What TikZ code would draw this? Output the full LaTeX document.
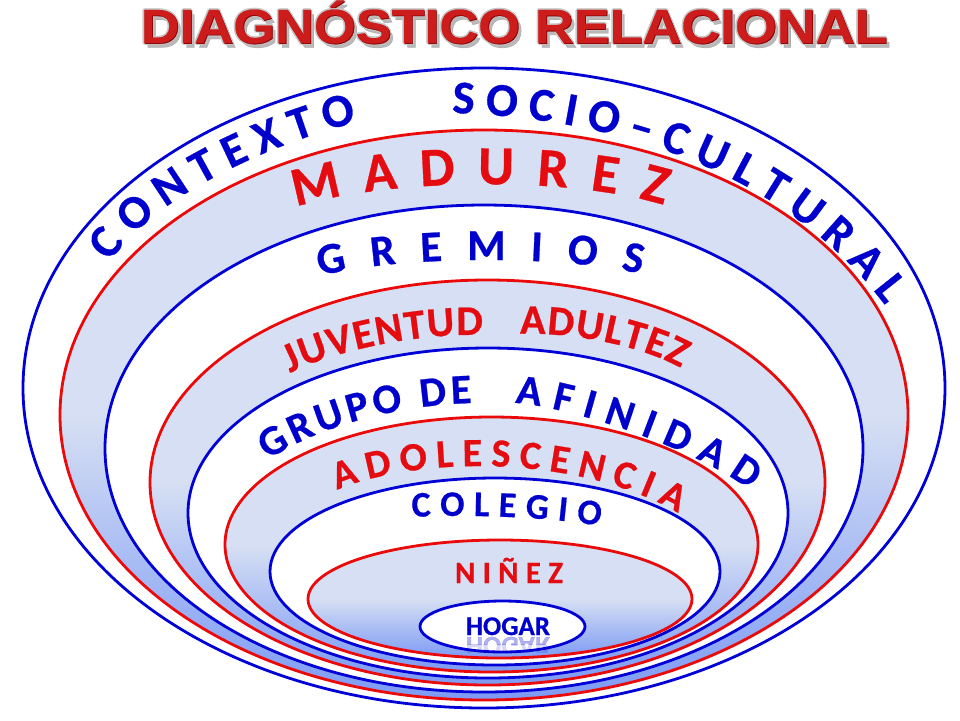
\documentclass[tikz,border=0pt]{standalone}
\usepackage{fontspec}
\setmainfont{Liberation Sans}
\newfontface\titlefont{Liberation Sans Bold}[FakeBold=0.5]
\newfontfamily\ringfont{Carlito}[BoldFeatures={FakeBold=0.6}]
\usetikzlibrary{decorations.text}
\definecolor{ringblue}{RGB}{0,0,215}
\definecolor{ringred}{RGB}{235,10,10}
\definecolor{txtblue}{RGB}{0,0,205}
\definecolor{txtred}{RGB}{228,12,16}
\definecolor{bandtop}{RGB}{214,223,243}
\definecolor{bandbot}{RGB}{125,155,245}
\definecolor{titlered}{RGB}{205,28,28}
\begin{document}
\begin{tikzpicture}
[   x=.5pt, y=-.5pt,
    bluering/.style={draw=ringblue,line width=1.4pt,fill=white},
    redring/.style={draw=ringred,line width=1.4pt,top color=bandtop,bottom color=bandbot,middle color=bandtop},
    arctext/.style args={#1/#2/#3}{decorate,decoration={text along path,text align=fit to path,
        text={|\ringfont\bfseries\fontsize{#2}{#2}\selectfont\color{#1}|#3}}},
    titletext/.style={font=\titlefont\fontsize{24}{24}\selectfont,anchor=base},
    hogartext/.style={font=\ringfont\bfseries\fontsize{13.5}{13.5}\selectfont,text=txtblue,anchor=base},
]
    \useasboundingbox (0,0) rectangle (960,720);
    % nested rings, outer to inner
    \foreach \cx/\cy/\rx/\ry/\ring in {484/388/461/320/bluering, 484/415/424/285/redring,
        484/448.5/379/243.5/bluering, 487.5/482.5/337.5/202.5/redring, 488/513/300/165/bluering,
        491.5/544.5/266.5/127.5/redring, 495/571.5/225/93.5/bluering, 500/599/192/59/redring,
        502.5/626.5/82.5/25.5/bluering}
    {   \path[\ring] (\cx,\cy) ellipse [x radius=\rx*.5pt, y radius=\ry*.5pt];
    }
    % title, with shadow and grey rim
    \node (shadow) [titletext,text=black!50,opacity=.55] at (517.5,47.5) {\scalebox{1.12}[1]{DIAGNÓSTICO RELACIONAL}};
    \foreach \dx/\dy in {-1.6/0,1.6/0,0/-1.6,0/1.6,-1.1/-1.1,1.1/1.1,-1.1/1.1,1.1/-1.1}
    {   \node[titletext,text=black!22] at (514+\dx,43+\dy) {\scalebox{1.12}[1]{DIAGNÓSTICO RELACIONAL}};
    }
    \node[titletext,text=red!50!black] at (514.8,43.8) {\scalebox{1.12}[1]{DIAGNÓSTICO RELACIONAL}};
    \node (title) [titletext,text=titlered] at (514,43) {\scalebox{1.12}[1]{DIAGNÓSTICO RELACIONAL}};
    % ring labels
    \path[arctext={txtblue/23.5/CONTEXTO}] (110,262) .. controls (154,196) and (270,144) .. (357,122);
    \path[arctext={txtblue/23.5/SOCIO–CULTURAL}] (452,113) .. controls (632,118) and (790,180) .. (885,305);
    \path[arctext={txtred/27.5/MADUREZ}] (296,207) .. controls (390,178) and (570,176) .. (664,205);
    \path[arctext={txtblue/22/GREMIOS}] (320,276) .. controls (400,255) and (565,255) .. (641,274);
    \path[arctext={txtred/21/JUVENTUD}] (290,373) .. controls (335,350) and (420,333) .. (483,335);
    \path[arctext={txtred/21/ADULTEZ}] (520,334) .. controls (570,332) and (640,345) .. (681,368);
    \path[arctext={txtblue/21/GRUPO DE}] (268,460) .. controls (320,425) and (400,405) .. (472,403);
    \path[arctext={txtblue/21/AFINIDAD}] (515,403) .. controls (580,408) and (700,452) .. (750,490);
    \path[arctext={txtred/20/ADOLESCENCIA}] (337,490) .. controls (420,455) and (580,455) .. (678,513);
    \path[arctext={txtblue/18/COLEGIO}] (412,517) .. controls (470,514) and (550,517) .. (600,526);
    \path[arctext={txtred/15.5/NIÑEZ}] (455,583) -- (563,583);
    \node (hogar) [hogartext] at (508,635) {HOGAR};
    % faded mirror image under HOGAR
    \foreach \k/\op in {0/.3,1/.15}
    {   \begin{scope}[opacity=\op]
            \clip (0,636+\k*8) rectangle (960,644+\k*8);
            \node[hogartext,transform canvas={yshift=-636pt,yscale=-1}] at (508,635) {HOGAR};
        \end{scope}
    }
\end{tikzpicture}
\end{document}
